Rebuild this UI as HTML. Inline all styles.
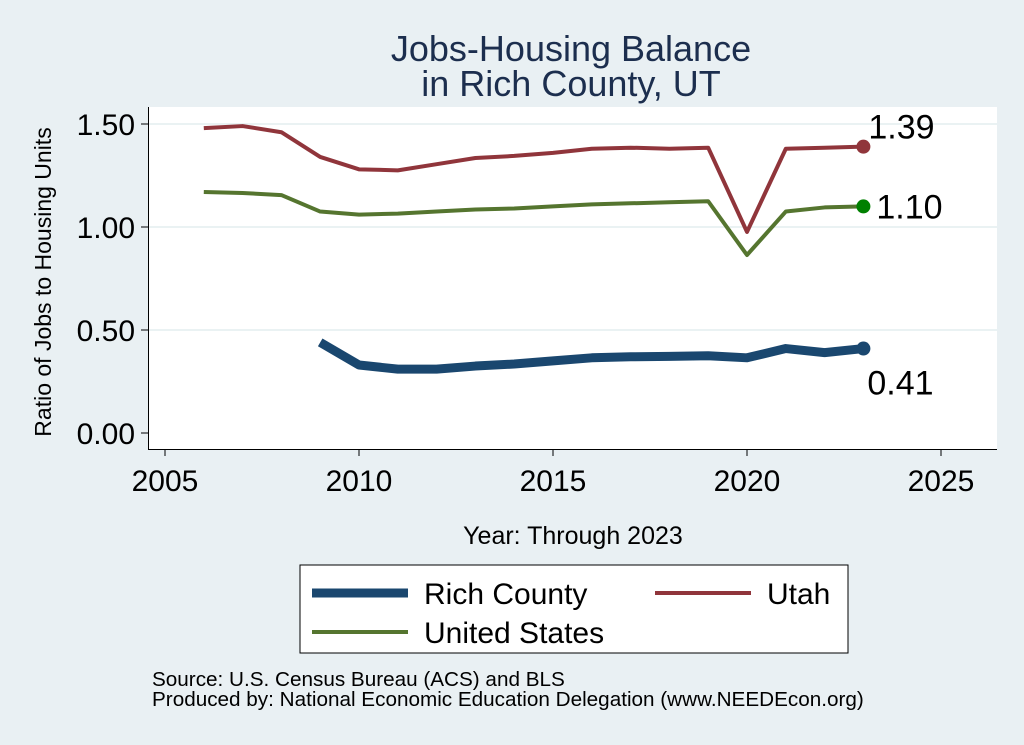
<!DOCTYPE html>
<html><head><meta charset="utf-8"><style>
body{margin:0;background:#e9f0f3;}
svg{display:block;font-family:"Liberation Sans",Arial,sans-serif;}
</style></head><body>
<svg width="1024" height="745">
<rect width="1024" height="745" fill="#e9f0f3"/>
<rect x="148" y="107" width="849" height="342" fill="#fff"/>
<text x="571" y="61" text-anchor="middle" font-size="36" fill="#1c2e4e">Jobs-Housing Balance</text>
<text x="571" y="96" text-anchor="middle" font-size="36" fill="#1c2e4e">in Rich County, UT</text>
<g id="grid"></g><g id="axes"></g><g id="series"></g>
<text transform="translate(51,282) rotate(-90)" text-anchor="middle" font-size="23">Ratio of Jobs to Housing Units</text>
<text x="573" y="544" text-anchor="middle" font-size="25">Year: Through 2023</text>
<g>
<rect x="300" y="565" width="548" height="88" fill="#fff" stroke="#000" stroke-width="1"/>
<line x1="312" y1="593" x2="408" y2="593" stroke="#1a476f" stroke-width="9"/>
<text x="424" y="604" font-size="30">Rich County</text>
<line x1="655" y1="593" x2="751" y2="593" stroke="#90353b" stroke-width="4"/>
<text x="767" y="604" font-size="30">Utah</text>
<line x1="312" y1="632" x2="408" y2="632" stroke="#55752f" stroke-width="4"/>
<text x="424" y="643" font-size="30">United States</text>
</g>
<text x="152" y="686" font-size="20.7">Source: U.S. Census Bureau (ACS) and BLS</text>
<text x="152" y="706" font-size="20.7">Produced by: National Economic Education Delegation (www.NEEDEcon.org)</text>
</svg>
<script>
const years=[2006,2007,2008,2009,2010,2011,2012,2013,2014,2015,2016,2017,2018,2019,2020,2021,2022,2023];
const utah=[1.48,1.49,1.46,1.34,1.28,1.275,1.305,1.335,1.345,1.36,1.38,1.385,1.38,1.385,0.976,1.38,1.385,1.39];
const us=[1.17,1.165,1.155,1.075,1.06,1.065,1.075,1.085,1.09,1.10,1.11,1.115,1.12,1.125,0.864,1.075,1.095,1.10];
const richYears=[2009,2010,2011,2012,2013,2014,2015,2016,2017,2018,2019,2020,2021,2022,2023];
const rich=[0.44,0.33,0.31,0.31,0.325,0.335,0.35,0.365,0.37,0.372,0.375,0.365,0.41,0.39,0.41];
const yTicks=[0,0.5,1.0,1.5];
const xTicks=[2005,2010,2015,2020,2025];
const NS="http://www.w3.org/2000/svg";
const x=v=>165+(v-2005)*38.8;
const y=v=>433-206*v;
function mk(t,a,p){const e=document.createElementNS(NS,t);for(const k in a)e.setAttribute(k,a[k]);p.appendChild(e);return e;}
const grid=document.getElementById('grid'),axes=document.getElementById('axes'),ser=document.getElementById('series');
yTicks.forEach(t=>{
 if(t>0){const g=mk('line',{x1:149,x2:997,y1:y(t),y2:y(t),stroke:'#eaf2f3','stroke-width':2},grid);
 
 }
 const tk=mk('line',{x1:141,x2:148,y1:y(t),y2:y(t),stroke:'#000'},axes);
 
 
 const l=mk('text',{x:135,y:y(t)+11,'text-anchor':'end','font-size':30},axes);l.textContent=t.toFixed(2);
 
 
});
xTicks.forEach(t=>{
 const tk=mk('line',{x1:x(t),x2:x(t),y1:449,y2:456,stroke:'#000'},axes);
 
 
 const l=mk('text',{x:x(t),y:491,'text-anchor':'middle','font-size':30},axes);l.textContent=t;
 
 
});
const ya=mk('line',{x1:148.5,x2:148.5,y1:107,y2:449.5,stroke:'#000'},axes);


const xa=mk('line',{x1:148,x2:997,y1:449.5,y2:449.5,stroke:'#000'},axes);


function line(xs,vs,col,w,name,dotCol,lx,ly){
 const p=mk('polyline',{points:xs.map((v,i)=>x(v)+','+y(vs[i])).join(' '),fill:'none',stroke:col,'stroke-width':w,'stroke-linejoin':'round'},ser);
 
 
 const n=xs.length-1;
 const c=mk('circle',{cx:x(xs[n]),cy:y(vs[n]),r:7,fill:dotCol},ser);
 
 
 const t=mk('text',{x:x(xs[n])+lx,y:y(vs[n])+ly,'font-size':34},ser);t.textContent=vs[n].toFixed(2);
 
 
}
line(years,utah,'#90353b',4,'utah','#90353b',5,-8);
line(years,us,'#55752f',4,'us','#008000',13,12);
line(richYears,rich,'#1a476f',9,'rich','#1a476f',4,46);
</script>
</body></html>
